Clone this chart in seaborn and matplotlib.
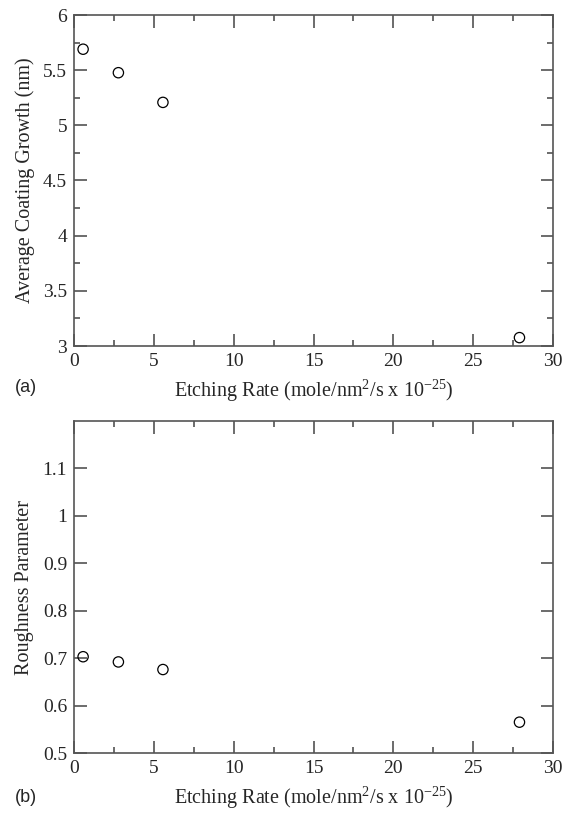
import matplotlib
matplotlib.use("Agg")
import matplotlib.pyplot as plt
import seaborn as sns
import pandas as pd
from matplotlib.ticker import MultipleLocator

etch_rate = [0.57, 2.78, 5.57, 27.9]
coating_growth = [5.69, 5.477, 5.208, 3.076]
roughness = [0.703, 0.692, 0.676, 0.565]

sns.set_style("ticks")
plt.rcParams['font.family'] = ['Liberation Serif', 'DejaVu Serif']
plt.rcParams['mathtext.fontset'] = 'custom'
plt.rcParams['mathtext.rm'] = 'Liberation Serif'
plt.rcParams['mathtext.it'] = 'Liberation Serif'

df = pd.DataFrame({"x": etch_rate, "g": coating_growth, "r": roughness})

W, H = 564, 813
fig = plt.figure(figsize=(W / 100, H / 100), dpi=100)

def axrect(l, t, r, b):
    return [l / W, 1 - b / H, (r - l) / W, (b - t) / H]

ax1 = fig.add_axes(axrect(74, 15, 553, 346))
ax2 = fig.add_axes(axrect(74, 421, 553, 753))

xlabel = "Etching Rate (mole/nm$^2$/s x 10$^{-25}$)"
for ax, col, ylim, ymaj, ymin, ylab in [
    (ax1, "g", (3, 6), 0.5, 0.25, "Average Coating Growth (nm)"),
    (ax2, "r", (0.5, 1.2), 0.1, None, "Roughness Parameter"),
]:
    sns.scatterplot(data=df, x="x", y=col, ax=ax, marker="o", s=55,
                    facecolors="none", edgecolor="black", linewidth=0.9)
    ax.set_xlim(0, 30)
    ax.set_ylim(*ylim)
    ax.xaxis.set_major_locator(MultipleLocator(5))
    ax.xaxis.set_minor_locator(MultipleLocator(2.5))
    if ymin:
        ax.yaxis.set_minor_locator(MultipleLocator(ymin))
    if col == "r":
        ax.set_yticks([0.5, 0.6, 0.7, 0.8, 0.9, 1.0, 1.1])
        ax.set_yticklabels(["0.5", "0.6", "0.7", "0.8", "0.9", "1", "1.1"])
    else:
        ax.set_yticks([3, 3.5, 4, 4.5, 5, 5.5, 6])
        ax.set_yticklabels(["3", "3.5", "4", "4.5", "5", "5.5", "6"])
    ax.tick_params(which="both", direction="in", top=True, right=True,
                   labelsize=14, color="#444444", width=1.1)
    ax.tick_params(which="major", length=9, pad=5)
    ax.tick_params(which="minor", length=4.5)
    for s in ax.spines.values():
        s.set_color("#555555")
        s.set_linewidth(1.2)
    ax.set_xlabel(xlabel, fontsize=14.5, labelpad=6)
    ax.set_ylabel(ylab, fontsize=14.5, labelpad=6)

fig.text(15 / W, 1 - 387 / H, "(a)", fontsize=13, family="Liberation Sans", va="center")
fig.text(15 / W, 1 - 797 / H, "(b)", fontsize=13, family="Liberation Sans", va="center")

fig.savefig("out.png", dpi=100)
